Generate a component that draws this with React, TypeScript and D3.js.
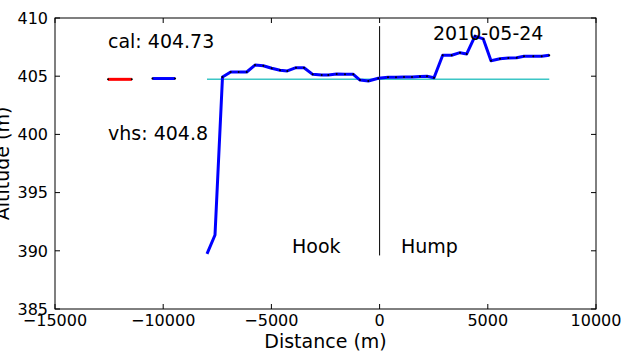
import * as d3 from 'd3'

// profile along the track (distance in m, altitude in m)
const distance = [
  -7976, -7606, -7260, -6881, -6511, -6141, -5758, -5374, -4986, -4603, -4265,
  -3863, -3494, -3092, -2676, -2371, -1983, -1599, -1215, -905, -522, -60,
  388, 758, 1128, 1497, 1867, 2190, 2514, 2916, 3331, 3715, 4025, 4408, 4792,
  5148, 5563, 5947, 6335, 6672, 7102, 7490, 7841,
]
const altitude = [
  389.73, 391.36, 404.93, 405.36, 405.36, 405.36, 405.96, 405.9, 405.68, 405.51, 405.45,
  405.73, 405.73, 405.16, 405.1, 405.1, 405.19, 405.16, 405.16, 404.67, 404.59, 404.82,
  404.9, 404.92, 404.93, 404.93, 404.97, 404.99, 404.87, 406.8, 406.8, 407.02, 406.91, 408.45, 408.2,
  406.33, 406.5, 406.56, 406.59, 406.71, 406.71, 406.71, 406.8,
]

const calAlt = 404.73
const vhsAlt = 404.8
const calSeg = [-12550, -11450]
const vhsSeg = [-10500, -9450]
const refLine = [-7976, 7841]
const divider = [389.6, 409.3]

const xTicks = [-15000, -10000, -5000, 0, 5000, 10000]
const yTicks = [385, 390, 395, 400, 405, 410]

const W = 624
const H = 352
const m = { left: 55, right: 596, top: 18, bottom: 309 }
const font = 'DejaVu Sans, sans-serif'

export default function App() {
  const x = d3.scaleLinear().domain([-15000, 10000]).range([m.left, m.right])
  const y = d3.scaleLinear().domain([385, 410]).range([m.bottom, m.top])

  const pts = distance.map((d, i) => [d, altitude[i]] as [number, number])
  const line = d3.line<[number, number]>().x(d => x(d[0])).y(d => y(d[1]))

  const fmt = (v: number) => (v < 0 ? '\u2212' + Math.abs(v) : String(v))
  const tick = 5

  return (
    <svg width={W} height={H} style={{ position: 'absolute', left: 0, top: 0, fontFamily: font }}>
      <rect x={0} y={0} width={W} height={H} fill="#fff" />

      {/* reference altitude */}
      <line x1={x(refLine[0])} x2={x(refLine[1])} y1={y(calAlt)} y2={y(calAlt)} stroke="#3cc6c6" strokeWidth={1.5} />

      {/* cal / vhs samples */}
      <line x1={x(calSeg[0])} x2={x(calSeg[1])} y1={y(calAlt)} y2={y(calAlt)} stroke="#ff0000" strokeWidth={3} />
      <line x1={x(vhsSeg[0])} x2={x(vhsSeg[1])} y1={y(vhsAlt)} y2={y(vhsAlt)} stroke="#0000ff" strokeWidth={3} />
      {[calSeg[0], calSeg[1]].map(d => <circle key={'c' + d} cx={x(d)} cy={y(calAlt)} r={1} fill="#000" />)}
      {[vhsSeg[0], vhsSeg[1]].map(d => <circle key={'v' + d} cx={x(d)} cy={y(vhsAlt)} r={1} fill="#000" />)}

      {/* divider at 0 */}
      <line x1={x(0)} x2={x(0)} y1={y(divider[0])} y2={y(divider[1])} stroke="#000" strokeWidth={1} />

      {/* profile */}
      <path d={line(pts) ?? ''} fill="none" stroke="#0000ff" strokeWidth={3} strokeLinejoin="round" />
      {pts.slice(2).map((p, i) => (
        <circle key={i} cx={x(p[0])} cy={y(p[1])} r={1} fill="#000" />
      ))}

      {/* annotations */}
      <g fontSize={19} fill="#000">
        <text x={108} y={48}>cal: 404.73</text>
        <text x={108} y={139.5}>vhs: 404.8</text>
        <text x={433} y={40}>2010-05-24</text>
        <text x={292} y={253}>Hook</text>
        <text x={401} y={253}>Hump</text>
      </g>

      {/* frame */}
      <rect x={m.left} y={m.top} width={m.right - m.left} height={m.bottom - m.top} fill="none" stroke="#000" strokeWidth={1} />

      {/* ticks */}
      {xTicks.map(t => (
        <g key={'x' + t}>
          <line x1={x(t)} x2={x(t)} y1={m.bottom} y2={m.bottom - tick} stroke="#000" />
          <line x1={x(t)} x2={x(t)} y1={m.top} y2={m.top + tick} stroke="#000" />
          <text x={x(t)} y={326} fontSize={16} textAnchor="middle">{fmt(t)}</text>
        </g>
      ))}
      {yTicks.map(t => (
        <g key={'y' + t}>
          <line x1={m.left} x2={m.left + tick} y1={y(t)} y2={y(t)} stroke="#000" />
          <line x1={m.right} x2={m.right - tick} y1={y(t)} y2={y(t)} stroke="#000" />
          <text x={48} y={y(t) + 5.8} fontSize={16} textAnchor="end">{fmt(t)}</text>
        </g>
      ))}

      {/* axis labels */}
      <text x={(m.left + m.right) / 2} y={348} fontSize={19} textAnchor="middle">Distance (m)</text>
      <text transform={`translate(9,${(m.top + m.bottom) / 2}) rotate(-90)`} fontSize={19} textAnchor="middle">Altitude (m)</text>
    </svg>
  )
}
